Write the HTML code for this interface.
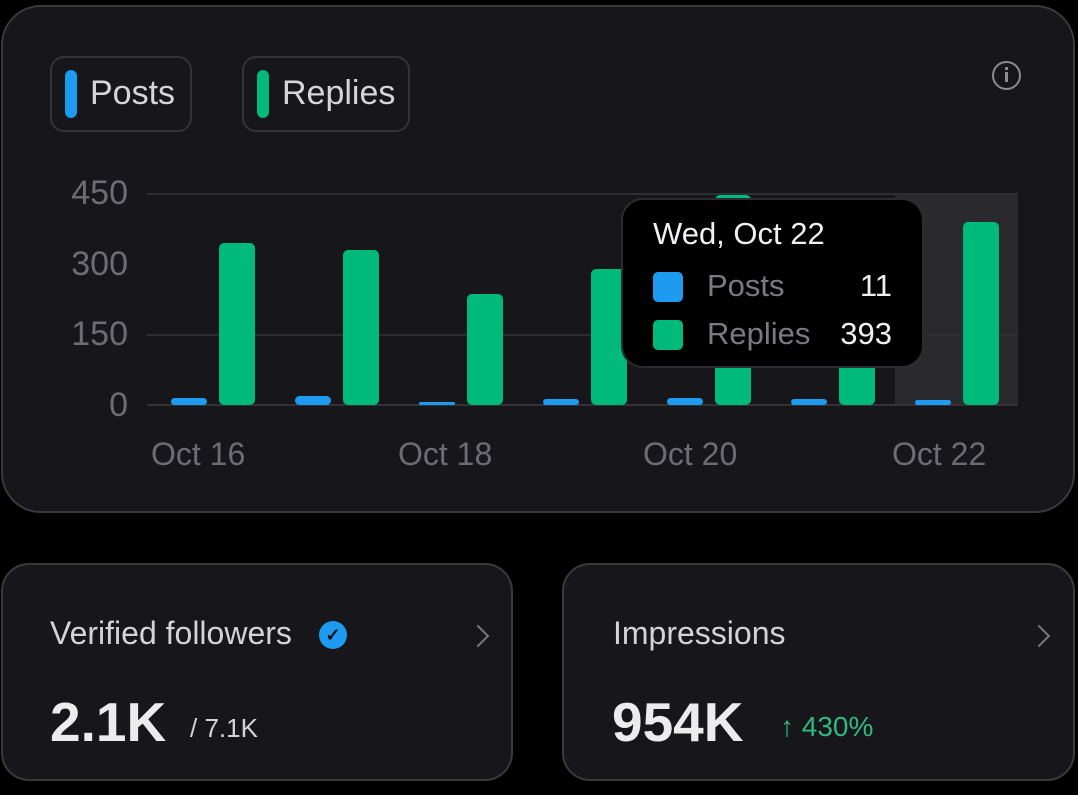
<!DOCTYPE html>
<html><head><meta charset="utf-8"><style>
*{margin:0;padding:0;box-sizing:border-box}
body{width:1078px;height:795px;background:#000;position:relative;overflow:hidden;font-family:"Liberation Sans",sans-serif}
.card{position:absolute;background:#17171b;border:2px solid #3a3a3e}
.abs{position:absolute}
.leg{position:absolute;border:2px solid #333337;border-radius:14px;height:76px;top:56px}
.pill{position:absolute;left:13px;top:12px;width:12px;height:48px;border-radius:6px}
.leg span{position:absolute;left:38px;top:16px;font-size:34px;color:#d6d6da}
.yl{position:absolute;right:950px;font-size:34px;color:#6c6c72;text-align:right;width:90px}
.xl{position:absolute;top:436px;font-size:32px;color:#6c6c72}
.bar{position:absolute;border-radius:5px}
.p{background:#1d9bf0}.r{background:#00ba7c}
.title{position:absolute;top:615px;font-size:32px;color:#d4d4d8}
.val{position:absolute;top:690px;font-size:55px;font-weight:bold;color:#ececee}
.chev{position:absolute;top:628px;width:16px;height:16px;border-right:2px solid #75757a;border-top:2px solid #75757a;transform:rotate(45deg)}
</style></head><body>
<div class="card" style="left:1px;top:5px;width:1074px;height:508px;border-radius:40px"></div>
<div class="leg" style="left:50px;width:142px"><div class="pill" style="background:#1d9bf0"></div><span>Posts</span></div>
<div class="leg" style="left:242px;width:168px"><div class="pill" style="background:#00ba7c"></div><span>Replies</span></div>
<div class="abs" style="left:992px;top:61px;width:29px;height:29px;border:2px solid #8a8a8f;border-radius:50%"></div>
<div class="abs" style="left:1005px;top:72px;width:3px;height:10px;background:#8a8a8f"></div>
<div class="abs" style="left:1005px;top:67px;width:3px;height:3px;background:#8a8a8f"></div>

<div class="abs" style="left:895px;top:194px;width:123px;height:211px;background:#2a2a2e"></div>
<div class="abs" style="left:147px;top:193px;width:871px;height:2px;background:#2f2f33"></div>
<div class="abs" style="left:147px;top:334px;width:871px;height:2px;background:#2f2f33"></div>
<div class="abs" style="left:147px;top:404px;width:871px;height:2px;background:#333337"></div>
<div class="yl" style="top:174px">450</div>
<div class="yl" style="top:245px">300</div>
<div class="yl" style="top:315px">150</div>
<div class="yl" style="top:386px">0</div>

<div class="bar p" style="left:171px;top:398px;width:36px;height:7px"></div>
<div class="bar r" style="left:219px;top:243px;width:36px;height:162px"></div>
<div class="bar p" style="left:295px;top:396px;width:36px;height:9px"></div>
<div class="bar r" style="left:343px;top:250px;width:36px;height:155px"></div>
<div class="bar p" style="left:419px;top:402px;width:36px;height:3px"></div>
<div class="bar r" style="left:467px;top:294px;width:36px;height:111px"></div>
<div class="bar p" style="left:543px;top:399px;width:36px;height:6px"></div>
<div class="bar r" style="left:591px;top:269px;width:36px;height:136px"></div>
<div class="bar p" style="left:667px;top:398px;width:36px;height:7px"></div>
<div class="bar r" style="left:715px;top:195px;width:36px;height:210px"></div>
<div class="bar p" style="left:791px;top:399px;width:36px;height:6px"></div>
<div class="bar r" style="left:839px;top:250px;width:36px;height:155px"></div>
<div class="bar p" style="left:915px;top:400px;width:36px;height:5px"></div>
<div class="bar r" style="left:963px;top:222px;width:36px;height:183px"></div>

<div class="xl" style="left:151px">Oct 16</div>
<div class="xl" style="left:398px">Oct 18</div>
<div class="xl" style="left:643px">Oct 20</div>
<div class="xl" style="left:892px">Oct 22</div>

<div class="abs" style="left:621px;top:198px;width:303px;height:170px;background:#000;border:2px solid #2c2c30;border-radius:22px">
 <div class="abs" style="left:30px;top:16px;font-size:31px;color:#f0f0f2">Wed, Oct 22</div>
 <div class="abs" style="left:30px;top:72px;width:30px;height:30px;border-radius:5px;background:#1d9bf0"></div>
 <div class="abs" style="left:84px;top:68px;font-size:31px;color:#7a7a80">Posts</div>
 <div class="abs" style="right:30px;top:68px;font-size:31px;color:#f0f0f2">11</div>
 <div class="abs" style="left:30px;top:120px;width:30px;height:30px;border-radius:5px;background:#00ba7c"></div>
 <div class="abs" style="left:84px;top:116px;font-size:31px;color:#7a7a80">Replies</div>
 <div class="abs" style="right:30px;top:116px;font-size:31px;color:#f0f0f2">393</div>
</div>

<div class="card" style="left:1px;top:563px;width:512px;height:218px;border-radius:28px"></div>
<div class="card" style="left:562px;top:563px;width:513px;height:218px;border-radius:28px"></div>
<div class="title" style="left:50px">Verified followers</div>
<div class="abs" style="left:319px;top:621px;width:28px;height:28px;border-radius:50%;background:#1d9bf0;color:#0d0d10;font-size:18px;font-weight:bold;text-align:center;line-height:28px">✓</div>
<div class="chev" style="left:470px"></div>
<div class="val" style="left:50px">2.1K</div>
<div class="abs" style="left:190px;top:713px;font-size:26px;color:#d4d4d8">/ 7.1K</div>
<div class="title" style="left:613px">Impressions</div>
<div class="chev" style="left:1031px"></div>
<div class="val" style="left:612px">954K</div>
<div class="abs" style="left:780px;top:711px;font-size:28px;color:#2fb981">↑ 430%</div>
</body></html>
